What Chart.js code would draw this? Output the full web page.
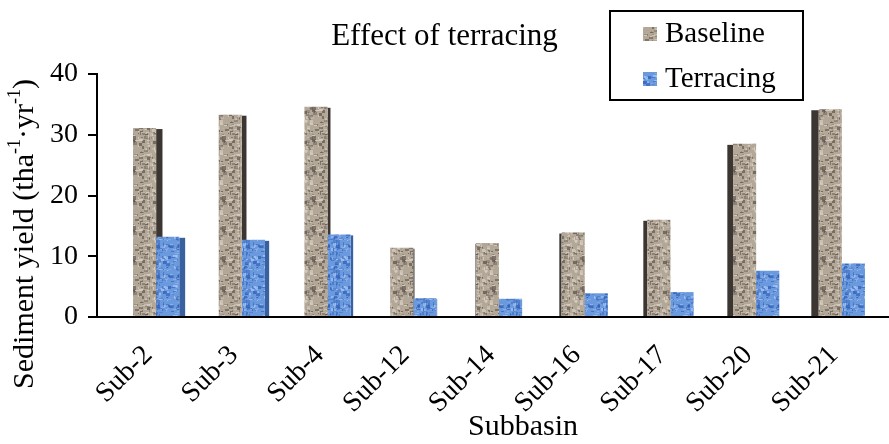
<!DOCTYPE html>
<html>
<head>
<meta charset="utf-8">
<script src="https://cdn.jsdelivr.net/npm/chart.js@4/dist/chart.umd.min.js"></script>
<style>
  html, body { margin: 0; padding: 0; background: #ffffff; }
  #wrap { width: 889px; height: 444px; }
</style>
</head>
<body>
<div id="wrap"><canvas id="chart" width="889" height="444"></canvas></div>
<script>
// Chart data
var categories = ['Sub-2', 'Sub-3', 'Sub-4', 'Sub-12', 'Sub-14', 'Sub-16', 'Sub-17', 'Sub-20', 'Sub-21'];
var baselineValues = [31.1, 33.3, 34.6, 11.4, 12.2, 13.9, 16.0, 28.5, 34.2];
var terracingValues = [13.2, 12.7, 13.6, 3.1, 3.0, 3.9, 4.1, 7.6, 8.8];
var yTicks = [0, 10, 20, 30, 40];

var SERIF = '"Liberation Serif", "Times New Roman", serif';

// Speckled textures for the bars (seeded, so every render looks the same)
function makeTexture(base, dark, light, seed) {
    var c = document.createElement('canvas');
    c.width = 30; c.height = 30;
    var g = c.getContext('2d');
    g.fillStyle = base;
    g.fillRect(0, 0, 30, 30);
    var s = seed;
    function next() { s = (s * 16807) % 2147483647; return s / 2147483647; }
    for (var i = 0; i < 120; i++) {
        g.globalAlpha = 0.25 + 0.5 * next();
        g.fillStyle = next() < 0.55 ? dark : light;
        g.fillRect(Math.floor(next() * 30), Math.floor(next() * 30),
                   1 + Math.floor(next() * 4), 1 + Math.floor(next() * 3));
    }
    return g.createPattern(c, 'repeat');
}

var baselineFill = makeTexture('#b3a797', '#5f554c', '#ddd5ca', 12345);
var terracingFill = makeTexture('#6a99de', '#2f5fb6', '#aecaf2', 777);
var sideColors = ['#3b3631', '#39619f'];

function toPoints(values) {
    return values.map(function (v, i) { return { x: i, y: v }; });
}

// 3D-ish side faces, drawn before the bar faces so these cover them
var barSides = {
    id: 'barSides',
    beforeDatasetsDraw: function (chart) {
        var ctx = chart.ctx;
        var area = chart.chartArea;
        var vanishX = area.left + 0.46 * (area.right - area.left);
        ctx.save();
        chart.data.datasets.forEach(function (ds, di) {
            var meta = chart.getDatasetMeta(di);
            ctx.fillStyle = sideColors[di];
            meta.data.forEach(function (bar) {
                var p = bar.getProps(['x', 'y', 'base', 'width'], true);
                var d = (p.x - vanishX) * 0.02;
                var w = Math.abs(d);
                var x0 = d < 0 ? p.x + p.width / 2 : p.x - p.width / 2 - w;
                ctx.fillRect(x0, p.y + 1, w, p.base - p.y - 1);
            });
        });
        ctx.restore();
    }
};

// text runs with small raised pieces (superscripts), drawn centred on (0,0)
function drawRich(ctx, runs, size) {
    var total = 0;
    runs.forEach(function (r) {
        ctx.font = (r.sup ? Math.round(size * 0.6) : size) + 'px ' + SERIF;
        r.w = ctx.measureText(r.t).width;
        total += r.w;
    });
    var x = -total / 2;
    ctx.textAlign = 'left';
    runs.forEach(function (r) {
        ctx.font = (r.sup ? Math.round(size * 0.6) : size) + 'px ' + SERIF;
        ctx.fillText(r.t, x, r.sup ? -size * 0.32 : 0);
        x += r.w;
    });
}

// Axis titles and the boxed legend
var annotations = {
    id: 'annotations',
    afterDraw: function (chart) {
        var ctx = chart.ctx;
        ctx.save();
        ctx.fillStyle = '#000000';
        ctx.textBaseline = 'middle';

        ctx.font = '30px ' + SERIF;
        ctx.textAlign = 'center';
        ctx.fillText('Subbasin', 523, 427);

        ctx.save();
        ctx.translate(25, 234);
        ctx.rotate(-Math.PI / 2);
        drawRich(ctx, [
            { t: 'Sediment yield (tha' },
            { t: '-1', sup: true },
            { t: '\u00B7yr' },
            { t: '-1', sup: true },
            { t: ')' }
        ], 30);
        ctx.restore();

        // legend
        ctx.lineWidth = 2;
        ctx.strokeStyle = '#000000';
        ctx.strokeRect(610, 11, 193, 89);
        var items = [
            { label: chart.data.datasets[0].label, fill: baselineFill, y: 34 },
            { label: chart.data.datasets[1].label, fill: terracingFill, y: 79 }
        ];
        ctx.font = '29px ' + SERIF;
        ctx.textAlign = 'left';
        items.forEach(function (it) {
            ctx.fillStyle = it.fill;
            ctx.fillRect(643, it.y - 7, 14, 14);
            ctx.fillStyle = '#000000';
            ctx.fillText(it.label, 665, it.y);
        });
        ctx.restore();
    }
};

new Chart(document.getElementById('chart'), {
    type: 'bar',
    data: {
        datasets: [
            { label: 'Baseline', data: toPoints(baselineValues), backgroundColor: baselineFill, borderWidth: 0 },
            { label: 'Terracing', data: toPoints(terracingValues), backgroundColor: terracingFill, borderWidth: 0 }
        ]
    },
    options: {
        responsive: false,
        animation: false,
        categoryPercentage: 0.54,
        barPercentage: 1.0,
        layout: { padding: 0 },
        plugins: {
            legend: { display: false },
            tooltip: { enabled: false },
            title: {
                display: true,
                text: 'Effect of terracing',
                color: '#000000',
                font: { family: SERIF, size: 31, weight: 'normal', lineHeight: 1.2 },
                padding: { top: 18, bottom: 18.8 }
            }
        },
        scales: {
            x: {
                type: 'linear',
                offset: false,
                min: -0.69,
                max: 8.55,
                afterFit: function (s) { s.height = 127; },
                afterBuildTicks: function (s) {
                    s.ticks = categories.map(function (c, i) { return { value: i }; });
                },
                ticks: {
                    color: '#000000',
                    font: { family: SERIF, size: 28 },
                    minRotation: 45,
                    maxRotation: 45,
                    padding: 14,
                    labelOffset: -8,
                    autoSkip: false,
                    callback: function (v) { return categories[v]; }
                },
                grid: { display: false },
                border: { display: true, color: '#000000', width: 2 }
            },
            y: {
                min: yTicks[0],
                max: yTicks[yTicks.length - 1],
                afterFit: function (s) { s.width = 97; },
                ticks: {
                    stepSize: 5,
                    color: '#000000',
                    font: { family: SERIF, size: 28 },
                    padding: 10,
                    callback: function (v) { return yTicks.indexOf(v) >= 0 ? String(v) : ''; }
                },
                grid: { drawOnChartArea: false, drawTicks: true, tickLength: 9, color: '#000000', lineWidth: 2 },
                border: { display: true, color: '#000000', width: 2 }
            }
        }
    },
    plugins: [barSides, annotations]
});
</script>
</body>
</html>
